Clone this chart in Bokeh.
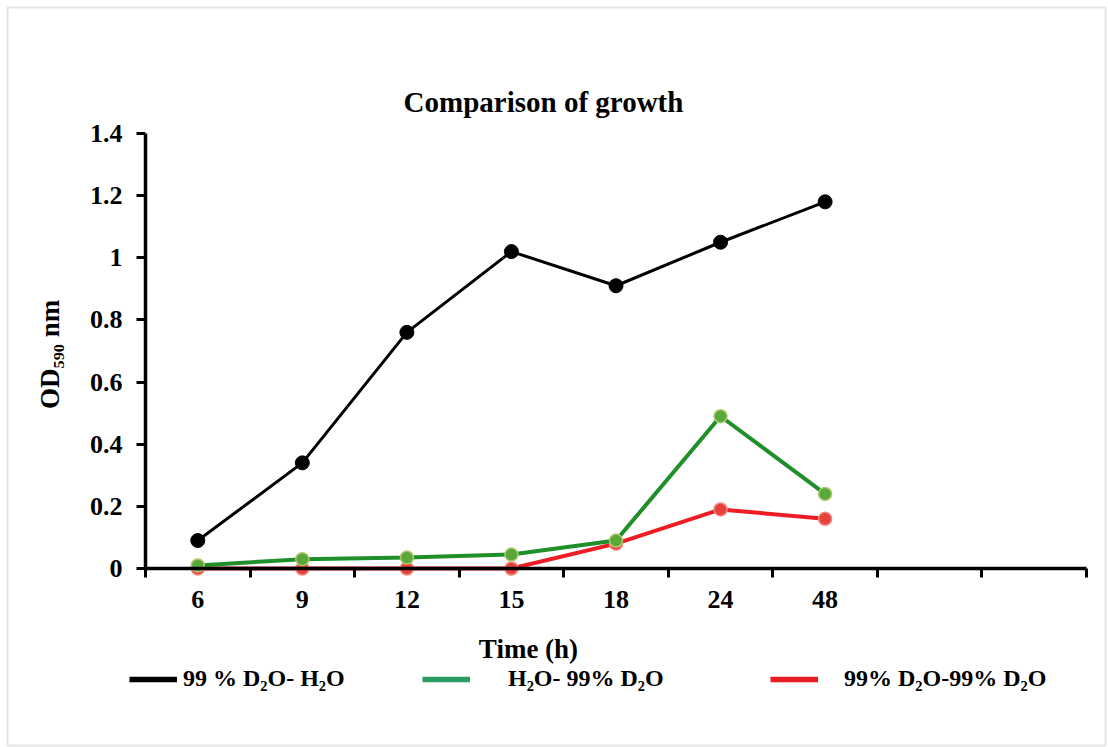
from bokeh.plotting import figure
from bokeh.models import (Range1d, FixedTicker, CustomJSTickFormatter, Legend, LegendItem,
                          Label)
from bokeh.embed import file_html
from bokeh.resources import INLINE

# ---- data ----
times = ["6", "9", "12", "15", "18", "24", "48"]
slots = times + ["", ""]          # axis has two empty category slots on the right
d2o_h2o = [0.09, 0.34, 0.76, 1.02, 0.91, 1.05, 1.18]
h2o_d2o = [0.01, 0.03, 0.035, 0.045, 0.09, 0.49, 0.24]
d2o_d2o = [0.0, 0.0, 0.0, 0.0, 0.08, 0.19, 0.16]
y_ticks = [0, 0.2, 0.4, 0.6, 0.8, 1, 1.2, 1.4]
series_names = ["99 % D\u2082O- H\u2082O", "H\u2082O- 99% D\u2082O", "99% D\u2082O-99% D\u2082O"]

xs = [i + 0.5 for i in range(len(times))]
FONT = "Liberation Serif"
n = len(slots)
NAN = float("nan")

p = figure(width=1108, height=747, output_backend="svg", toolbar_location=None,
           x_range=Range1d(-1.31987, n + 0.18172), y_range=Range1d(-0.56966, 1.80552),
           min_border_left=7, min_border_right=3, min_border_top=7, min_border_bottom=2)
p.outline_line_color = "#e6e6e6"
p.outline_line_width = 2
p.grid.visible = False
p.background_fill_color = "white"
p.border_fill_color = "white"

# x axis: ticks at slot boundaries, labels at slot centres
xax = p.xaxis[0]
xax.fixed_location = 0
xax.bounds = (0, n)
xax.ticker = FixedTicker(ticks=xs, minor_ticks=list(range(n + 1)))
xax.major_label_overrides = {x: t for x, t in zip(xs, times)}
xax.major_tick_line_color = None
xax.minor_tick_line_color = "black"
xax.minor_tick_line_width = 3
xax.minor_tick_out = 9
xax.minor_tick_in = 0
xax.axis_line_width = 3.5
xax.axis_line_color = "black"
xax.major_label_text_font = FONT
xax.major_label_text_font_style = "bold"
xax.major_label_text_font_size = "26px"
xax.major_label_text_color = "black"
xax.major_label_standoff = 14

yax = p.yaxis[0]
yax.fixed_location = 0
yax.bounds = (0, 1.4)
yax.ticker = FixedTicker(ticks=y_ticks)
yax.formatter = CustomJSTickFormatter(code="return tick.toString();")
yax.minor_tick_line_color = None
yax.major_tick_line_width = 3
yax.major_tick_out = 9
yax.major_tick_in = 0
yax.axis_line_width = 3.5
yax.axis_line_color = "black"
yax.major_label_text_font = FONT
yax.major_label_text_font_style = "bold"
yax.major_label_text_font_size = "26px"
yax.major_label_text_color = "black"
yax.major_label_standoff = 14
yax.axis_label = "OD\u2085\u2089\u2080  nm"
yax.axis_label_text_font = FONT
yax.axis_label_text_font_style = "bold"
yax.axis_label_text_font_size = "27px"
yax.axis_label_text_color = "black"
yax.axis_label_standoff = 22

# series (red under green, as in the reference)
p.line(xs, d2o_h2o, line_color="black", line_width=3)
p.scatter(xs, d2o_h2o, size=14, fill_color="black", line_color="black")
p.line(xs, d2o_d2o, line_color="#ee1c24", line_width=4)
p.scatter(xs, d2o_d2o, size=13, fill_color="#e8403c", line_color="#f08a80", line_width=1.5)
p.line(xs, h2o_d2o, line_color="#1f8f2a", line_width=4)
p.scatter(xs, h2o_d2o, size=13, fill_color="#5aa83a", line_color="#b0c870", line_width=1.5)

# legend swatches (renderers with no visible data, only used for the legend glyphs)
legend_colors = ["black", "#2a9a62", "#e81c24"]
swatches = [p.line([NAN], [NAN], line_color=c, line_width=5.5) for c in legend_colors]

# titles
p.add_layout(Label(x=3.8066, y=1.4998, text="Comparison of growth", text_align="center",
                   text_baseline="middle", text_font=FONT, text_font_style="bold",
                   text_font_size="29px", text_color="black"))
p.add_layout(Label(x=3.663, y=-0.2575, text="Time (h)", text_align="center",
                   text_baseline="middle", text_font=FONT, text_font_style="bold",
                   text_font_size="27px", text_color="black"))

# legends placed individually
legend_pos = [(122, 53), (415, 53), (763, 53)]
legend_standoff = [6, 38, 26]
for name, r, pos, so in zip(series_names, swatches, legend_pos, legend_standoff):
    lg = Legend(items=[LegendItem(label=name, renderers=[r])], location=pos,
                orientation="horizontal", padding=0, margin=0, border_line_color=None,
                background_fill_alpha=0, label_text_font=FONT, label_text_font_style="bold",
                label_text_font_size="24px", label_text_color="black",
                glyph_width=48, glyph_height=20, label_standoff=so)
    p.add_layout(lg, "center")

open("out.html", "w").write(file_html(p, INLINE))
